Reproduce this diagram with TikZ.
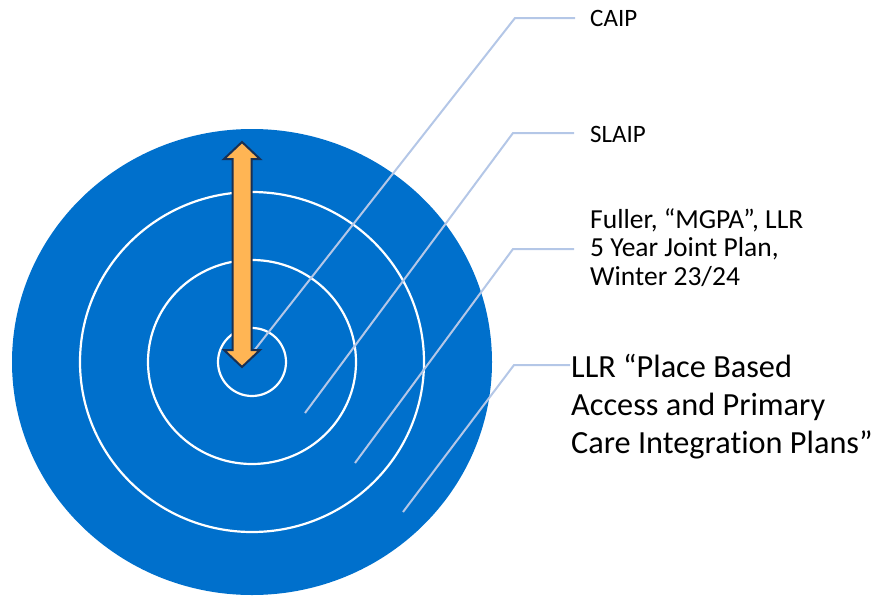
\documentclass[tikz,border=0pt]{standalone}
\usepackage{fontspec}
\setmainfont{Carlito}[Ligatures=CommonOff]
\definecolor{ringblue}{RGB}{0,112,204}
\definecolor{leader}{RGB}{180,199,231}
\definecolor{arrowfill}{RGB}{255,181,84}
\definecolor{arrowedge}{RGB}{24,48,84}
\tikzset{
  ring/.style={draw=white, line width=2.2pt},
  leaderline/.style={draw=leader, line width=2pt},
  smalltext/.style={anchor=base west, inner sep=0pt, align=left, font=\fontsize{25}{28.5}\selectfont},
  midtext/.style={anchor=base west, inner sep=0pt, align=left, font=\fontsize{27.5}{28.5}\selectfont},
  bigtext/.style={anchor=base west, inner sep=0pt, align=left, font=\fontsize{32.3}{38}\selectfont},
}
\begin{document}
\begin{tikzpicture}[x=1pt,y=-1pt]
\useasboundingbox (0,0) rectangle (873,597);
% target
\fill[ringblue] (252,362) ellipse [x radius=240pt, y radius=233pt];
\draw[ring] (252,362) ellipse [x radius=172pt, y radius=170pt];
\draw[ring] (252,362) ellipse [x radius=104pt, y radius=102pt];
\draw[ring] (252,362) ellipse [x radius=34pt, y radius=34pt];
% labels
\node[smalltext] (caip) at (590,27) {CAIP};
\node[smalltext] (slaip) at (590,142) {SLAIP};
\node[midtext] (fuller) at (590,285) {Fuller, “MGPA”, LLR\\5 Year Joint Plan,\\Winter 23/24};
\node[bigtext] (llr) at (571,453) {LLR “Place Based\\Access and Primary\\Care Integration Plans”};
% leader coordinates
\coordinate (c1) at (253,352);
\coordinate (k1) at (515,18);
\coordinate (e1) at (575,18);
\coordinate (c2) at (305,413);
\coordinate (k2) at (513,133);
\coordinate (e2) at (574,133);
\coordinate (c3) at (355,463);
\coordinate (k3) at (513,249);
\coordinate (e3) at (574,249);
\coordinate (c4) at (403,512);
\coordinate (k4) at (514,365);
\coordinate (e4) at (570,365);
\draw[leaderline] (c1) -- (k1) -- (e1);
\draw[leaderline] (c2) -- (k2) -- (e2);
\draw[leaderline] (c3) -- (k3) -- (e3);
\draw[leaderline] (c4) -- (k4) -- (e4);
% double arrow
\draw[fill=arrowfill, draw=arrowedge, line width=2pt, line join=miter]
  (242,142) -- (260,159) -- (251.5,159) -- (251.5,350) -- (260,350) -- (242,367)
  -- (224,350) -- (232.5,350) -- (232.5,159) -- (224,159) -- cycle;
\end{tikzpicture}
\end{document}
